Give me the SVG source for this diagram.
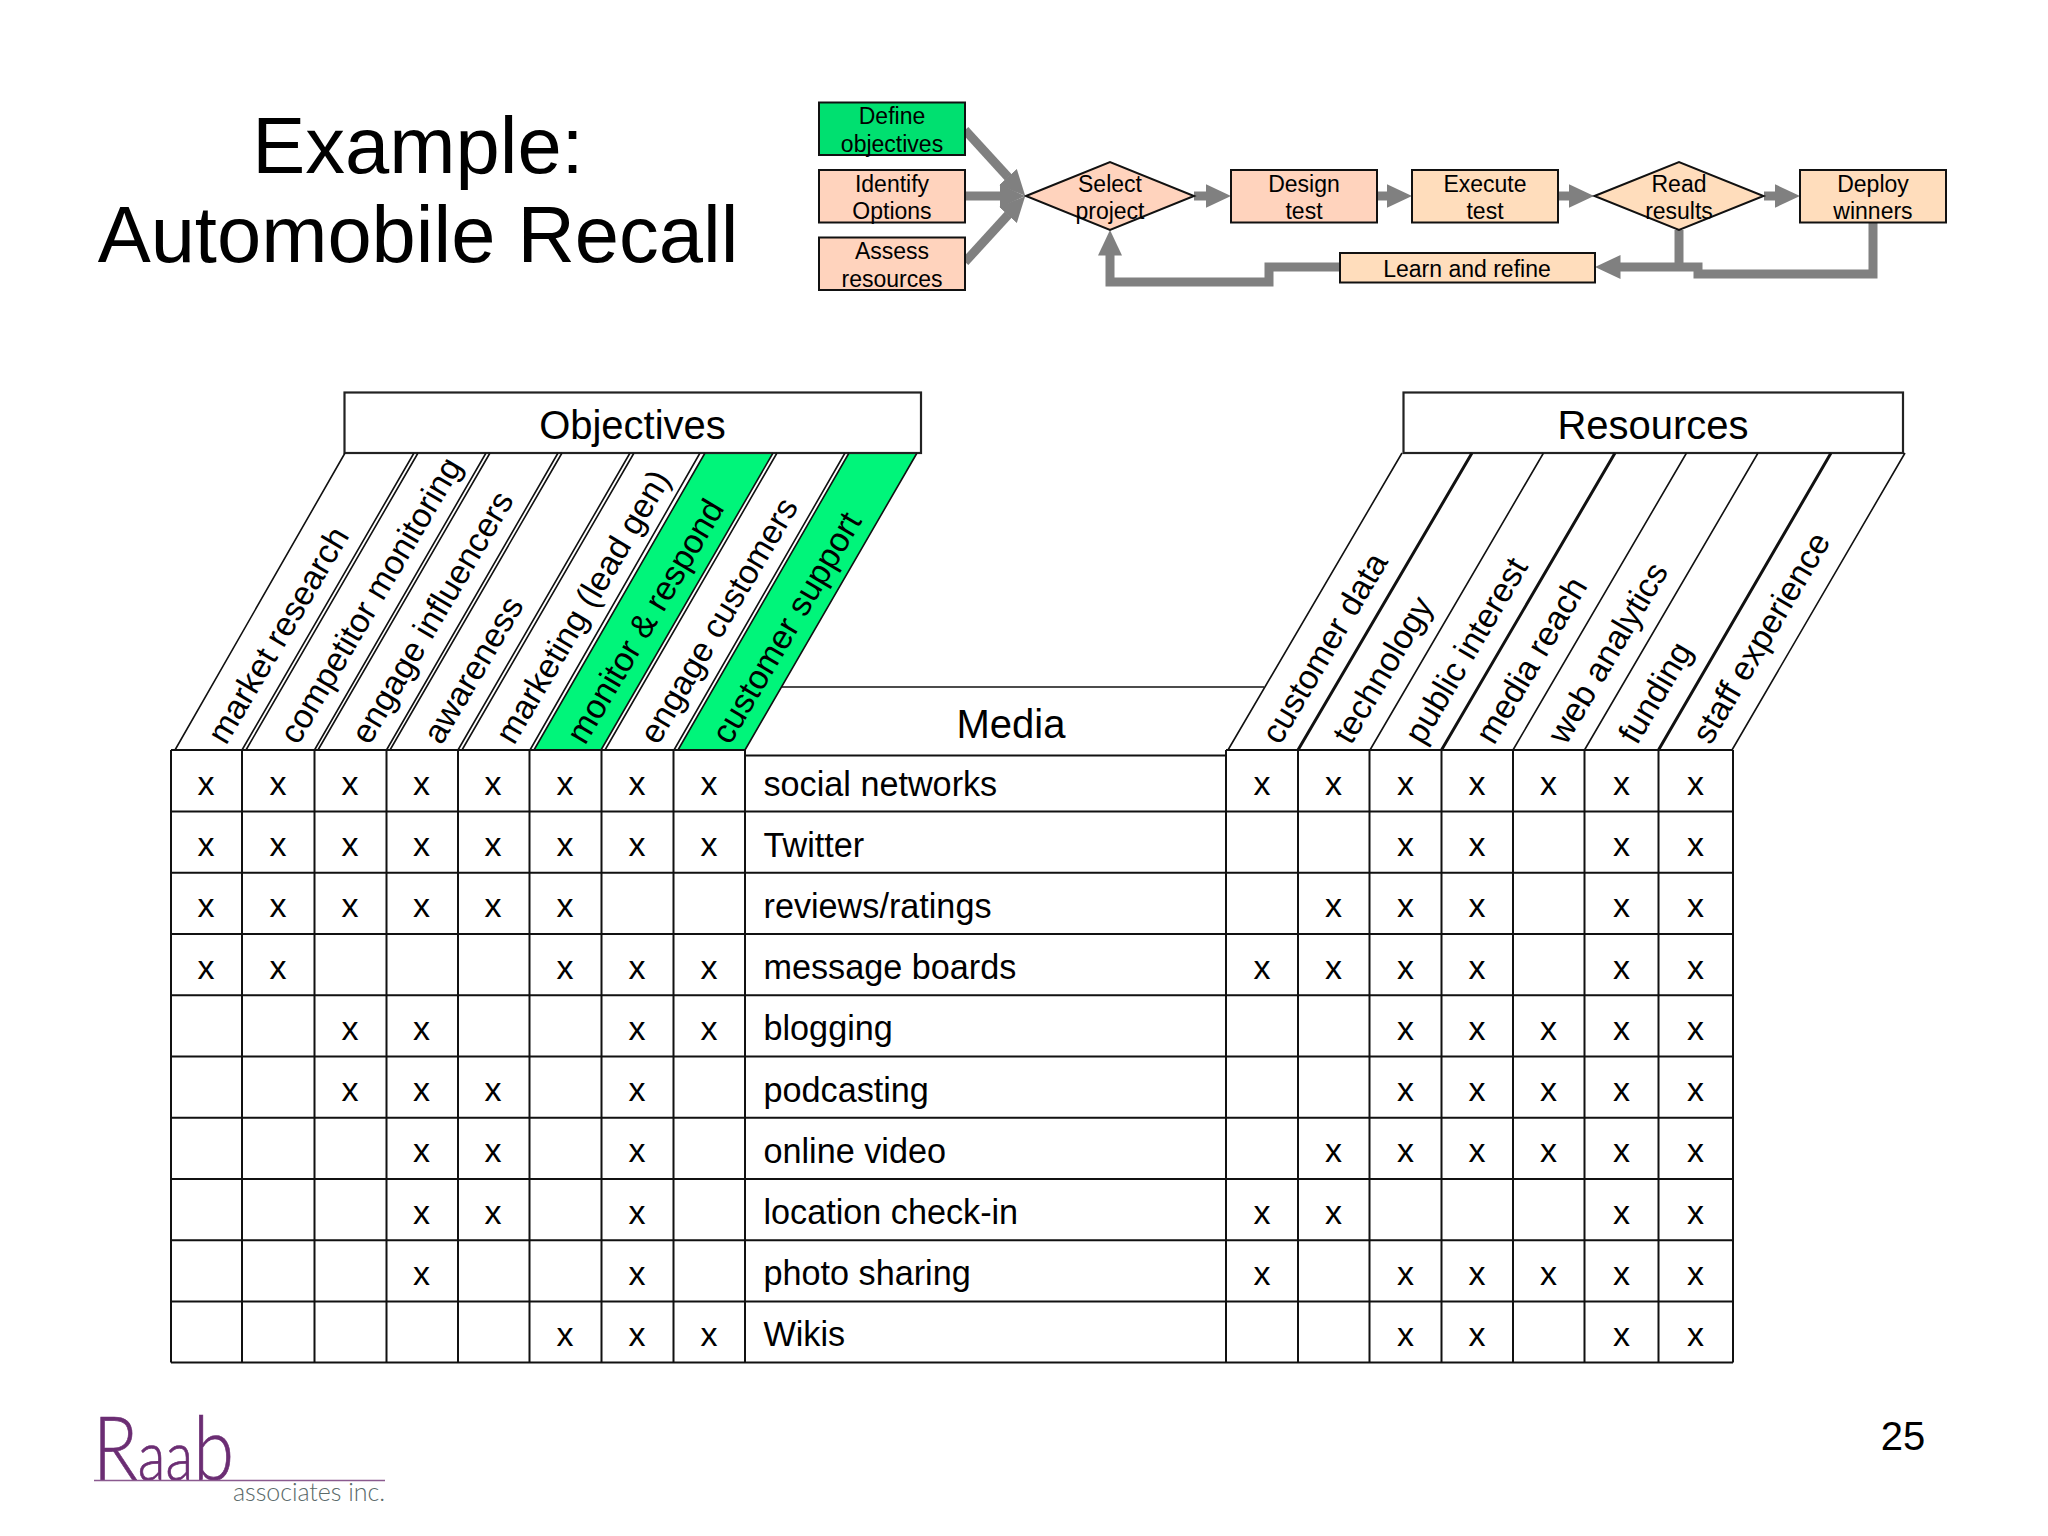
<svg xmlns="http://www.w3.org/2000/svg" width="2048" height="1536" viewBox="0 0 2048 1536">
<style>
text{font-family:"Liberation Sans",Arial,sans-serif;fill:#000}
.title{font-size:79.5px;text-anchor:middle}
.h{font-size:40px;text-anchor:middle}
.m{font-size:34.2px}
.x{font-size:34px;text-anchor:middle}
.s{font-size:33.8px}
.f{font-size:23px;text-anchor:middle}
.box{stroke:#111;stroke-width:2}
.pe{fill:#FFD3BD}
.or{fill:#FFDDBC}
.gr{fill:#00E070}
.hb{fill:#fff;stroke:#222;stroke-width:2.2}
.g{stroke:#111;stroke-width:2;fill:none}
.l{stroke:#111;stroke-width:1.6;fill:none}
.t{stroke:#111;stroke-width:3;fill:none}
.band{fill:#00F57A}
.c{stroke:#808080;stroke-width:9;fill:none;stroke-linejoin:miter}
.a{marker-end:url(#ah)}
.logo{font-family:Lato,"Liberation Sans",sans-serif;font-weight:300;fill:#6B2D73;stroke:#6B2D73;stroke-width:0.7px}
</style>
<defs>
<marker id="ah" markerUnits="userSpaceOnUse" markerWidth="26" markerHeight="25" viewBox="0 0 26 25" refX="0.5" refY="12.5" orient="auto"><path d="M0 0.5L25.5 12.5L0 24.5z" fill="#808080"/></marker>
</defs>
<rect width="2048" height="1536" fill="#fff"/>
<g id="title">
<text class="title" x="418" y="172.500">Example:</text>
<text class="title" x="418" y="261.500">Automobile Recall</text>
</g>
<g id="connectors">
<path class="c a" d="M965 130L1008.3 177.4"/>
<path class="c a" d="M965 196L1000 196"/>
<path class="c a" d="M965 262L1008.3 214.6"/>
<path class="c a" d="M1194 196L1206 196"/>
<path class="c a" d="M1377 196L1387 196"/>
<path class="c a" d="M1558 196L1569 196"/>
<path class="c a" d="M1764 196L1775 196"/>
<path class="c a" d="M1340 267L1269 267L1269 282L1110 282L1110 255"/>
<path class="c" d="M1679 230L1679 267"/>
<path class="c a" d="M1873 223L1873 274L1698 274L1698 267L1620 267"/>
</g>
<g id="define"><rect class="box gr" x="819" y="102.500" width="146" height="52.500"/><text class="f" x="892" y="124">Define</text><text class="f" x="892" y="151.500">objectives</text></g>
<g id="identify"><rect class="box pe" x="819" y="170" width="146" height="52.500"/><text class="f" x="892" y="192">Identify</text><text class="f" x="892" y="219">Options</text></g>
<g id="assess"><rect class="box pe" x="819" y="237.500" width="146" height="52.500"/><text class="f" x="892" y="259">Assess</text><text class="f" x="892" y="287">resources</text></g>
<g id="select"><path class="box pe" d="M1026 196L1110 162L1194 196L1110 230z"/><text class="f" x="1110" y="192">Select</text><text class="f" x="1110" y="219">project</text></g>
<g id="design"><rect class="box pe" x="1231" y="170" width="146" height="52.500"/><text class="f" x="1304" y="192">Design</text><text class="f" x="1304" y="219">test</text></g>
<g id="execute"><rect class="box or" x="1412" y="170" width="146" height="52.500"/><text class="f" x="1485" y="192">Execute</text><text class="f" x="1485" y="219">test</text></g>
<g id="read"><path class="box or" d="M1594.500 196L1679 162L1763.500 196L1679 230z"/><text class="f" x="1679" y="192">Read</text><text class="f" x="1679" y="219">results</text></g>
<g id="deploy"><rect class="box or" x="1800" y="170" width="146" height="52.500"/><text class="f" x="1873" y="192">Deploy</text><text class="f" x="1873" y="219">winners</text></g>
<g id="learn"><rect class="box or" x="1340" y="253" width="255" height="29.500"/><text class="f" x="1467" y="276.500">Learn and refine</text></g>
<g id="objectives">
<path class="band" d="M534 750L705 453L773 453L601 750z"/>
<path class="band" d="M678 750L849 453L917 453L745 750z"/>
<rect class="hb" x="344.500" y="392.500" width="576.500" height="60.500"/>
<text class="h" x="632.500" y="439">Objectives</text>
<path class="l" d="M175 750L345 453M242 750L414 453M246 750L418 453M314.500 750L486 453M318 750L490 453M386.500 750L558 453M390 750L562 453M458 750L630 453M462 750L634 453M530 750L700 453M534 750L705 453M601 750L773 453M605 750L777 453M674 750L845 453M678 750L849 453M745 750L917 453"/>
<g transform="translate(226 746) rotate(-59.500)"><text class="s">market research</text></g>
<g transform="translate(298 746) rotate(-59.500)"><text class="s">competitor monitoring</text></g>
<g transform="translate(369.500 746) rotate(-59.500)"><text class="s">engage influencers</text></g>
<g transform="translate(441.500 746) rotate(-59.500)"><text class="s">awareness</text></g>
<g transform="translate(514 746) rotate(-59.500)"><text class="s">marketing (lead gen)</text></g>
<g transform="translate(585 746) rotate(-59.500)"><text class="s">monitor &amp; respond</text></g>
<g transform="translate(658 746) rotate(-59.500)"><text class="s">engage customers</text></g>
<g transform="translate(730 746) rotate(-59.500)"><text class="s">customer support</text></g>
</g>
<g id="resources">
<rect class="hb" x="1403.500" y="392.500" width="499.500" height="60.500"/>
<text class="h" x="1653" y="439">Resources</text>
<path class="l" d="M1228 750L1402 453M1370 750L1543.500 453M1513 750L1686.500 453M1584.500 750L1758 453M1732 750L1905 453"/>
<path class="t" d="M1298 750L1472 453M1441.500 750L1615 453M1658.500 750L1831 453"/>
<g transform="translate(1280 746) rotate(-59.500)"><text class="s">customer data</text></g>
<g transform="translate(1351 746) rotate(-59.500)"><text class="s">technology</text></g>
<g transform="translate(1423 746) rotate(-59.500)"><text class="s">public interest</text></g>
<g transform="translate(1494 746) rotate(-59.500)"><text class="s">media reach</text></g>
<g transform="translate(1566 746) rotate(-59.500)"><text class="s">web analytics</text></g>
<g transform="translate(1637 746) rotate(-59.500)"><text class="s">funding</text></g>
<g transform="translate(1710.500 746) rotate(-59.500)"><text class="s">staff experience</text></g>
</g>
<g id="media">
<path class="l" d="M781.500 687H1264"/>
<text class="h" x="1011" y="738">Media</text>
</g>
<g id="grid">
<path class="g" d="M171 750L745 750M1226 750L1733 750M745 755.500L1226 755.500M171 811.500H1733M171 872.800H1733M171 934H1733M171 995.300H1733M171 1056.500H1733M171 1117.800H1733M171 1179H1733M171 1240.300H1733M171 1301.500H1733M171 1362.500H1733"/>
<path class="g" d="M171 750V1362.500M242 750V1362.500M314.500 750V1362.500M386.500 750V1362.500M458 750V1362.500M529.500 750V1362.500M601.500 750V1362.500M673.500 750V1362.500M745 750V1362.500M1226 750V1362.500M1298 750V1362.500M1369.500 750V1362.500M1441.500 750V1362.500M1513 750V1362.500M1584.500 750V1362.500M1658.500 750V1362.500M1733 750V1362.500"/>
</g>
<g id="row1"><text class="m" x="763.500" y="795.500">social networks</text>
<text class="x" x="206" y="794.500">x</text><text class="x" x="278" y="794.500">x</text><text class="x" x="350" y="794.500">x</text><text class="x" x="421.500" y="794.500">x</text><text class="x" x="493" y="794.500">x</text><text class="x" x="565" y="794.500">x</text><text class="x" x="637" y="794.500">x</text><text class="x" x="709" y="794.500">x</text>
<text class="x" x="1262" y="794.500">x</text><text class="x" x="1333.500" y="794.500">x</text><text class="x" x="1405.500" y="794.500">x</text><text class="x" x="1477" y="794.500">x</text><text class="x" x="1548.500" y="794.500">x</text><text class="x" x="1621.500" y="794.500">x</text><text class="x" x="1695.500" y="794.500">x</text></g>
<g id="row2"><text class="m" x="763.500" y="856.500">Twitter</text>
<text class="x" x="206" y="856">x</text><text class="x" x="278" y="856">x</text><text class="x" x="350" y="856">x</text><text class="x" x="421.500" y="856">x</text><text class="x" x="493" y="856">x</text><text class="x" x="565" y="856">x</text><text class="x" x="637" y="856">x</text><text class="x" x="709" y="856">x</text>
<text class="x" x="1405.500" y="856">x</text><text class="x" x="1477" y="856">x</text><text class="x" x="1621.500" y="856">x</text><text class="x" x="1695.500" y="856">x</text></g>
<g id="row3"><text class="m" x="763.500" y="917.500">reviews/ratings</text>
<text class="x" x="206" y="917">x</text><text class="x" x="278" y="917">x</text><text class="x" x="350" y="917">x</text><text class="x" x="421.500" y="917">x</text><text class="x" x="493" y="917">x</text><text class="x" x="565" y="917">x</text>
<text class="x" x="1333.500" y="917">x</text><text class="x" x="1405.500" y="917">x</text><text class="x" x="1477" y="917">x</text><text class="x" x="1621.500" y="917">x</text><text class="x" x="1695.500" y="917">x</text></g>
<g id="row4"><text class="m" x="763.500" y="979">message boards</text>
<text class="x" x="206" y="978.500">x</text><text class="x" x="278" y="978.500">x</text><text class="x" x="565" y="978.500">x</text><text class="x" x="637" y="978.500">x</text><text class="x" x="709" y="978.500">x</text>
<text class="x" x="1262" y="978.500">x</text><text class="x" x="1333.500" y="978.500">x</text><text class="x" x="1405.500" y="978.500">x</text><text class="x" x="1477" y="978.500">x</text><text class="x" x="1621.500" y="978.500">x</text><text class="x" x="1695.500" y="978.500">x</text></g>
<g id="row5"><text class="m" x="763.500" y="1040">blogging</text>
<text class="x" x="350" y="1039.500">x</text><text class="x" x="421.500" y="1039.500">x</text><text class="x" x="637" y="1039.500">x</text><text class="x" x="709" y="1039.500">x</text>
<text class="x" x="1405.500" y="1039.500">x</text><text class="x" x="1477" y="1039.500">x</text><text class="x" x="1548.500" y="1039.500">x</text><text class="x" x="1621.500" y="1039.500">x</text><text class="x" x="1695.500" y="1039.500">x</text></g>
<g id="row6"><text class="m" x="763.500" y="1101.500">podcasting</text>
<text class="x" x="350" y="1101">x</text><text class="x" x="421.500" y="1101">x</text><text class="x" x="493" y="1101">x</text><text class="x" x="637" y="1101">x</text>
<text class="x" x="1405.500" y="1101">x</text><text class="x" x="1477" y="1101">x</text><text class="x" x="1548.500" y="1101">x</text><text class="x" x="1621.500" y="1101">x</text><text class="x" x="1695.500" y="1101">x</text></g>
<g id="row7"><text class="m" x="763.500" y="1162.500">online video</text>
<text class="x" x="421.500" y="1162">x</text><text class="x" x="493" y="1162">x</text><text class="x" x="637" y="1162">x</text>
<text class="x" x="1333.500" y="1162">x</text><text class="x" x="1405.500" y="1162">x</text><text class="x" x="1477" y="1162">x</text><text class="x" x="1548.500" y="1162">x</text><text class="x" x="1621.500" y="1162">x</text><text class="x" x="1695.500" y="1162">x</text></g>
<g id="row8"><text class="m" x="763.500" y="1223.500">location check-in</text>
<text class="x" x="421.500" y="1223.500">x</text><text class="x" x="493" y="1223.500">x</text><text class="x" x="637" y="1223.500">x</text>
<text class="x" x="1262" y="1223.500">x</text><text class="x" x="1333.500" y="1223.500">x</text><text class="x" x="1621.500" y="1223.500">x</text><text class="x" x="1695.500" y="1223.500">x</text></g>
<g id="row9"><text class="m" x="763.500" y="1284.500">photo sharing</text>
<text class="x" x="421.500" y="1284.500">x</text><text class="x" x="637" y="1284.500">x</text>
<text class="x" x="1262" y="1284.500">x</text><text class="x" x="1405.500" y="1284.500">x</text><text class="x" x="1477" y="1284.500">x</text><text class="x" x="1548.500" y="1284.500">x</text><text class="x" x="1621.500" y="1284.500">x</text><text class="x" x="1695.500" y="1284.500">x</text></g>
<g id="row10"><text class="m" x="763.500" y="1345.500">Wikis</text>
<text class="x" x="565" y="1345.500">x</text><text class="x" x="637" y="1345.500">x</text><text class="x" x="709" y="1345.500">x</text>
<text class="x" x="1405.500" y="1345.500">x</text><text class="x" x="1477" y="1345.500">x</text><text class="x" x="1621.500" y="1345.500">x</text><text class="x" x="1695.500" y="1345.500">x</text></g>
<g id="logo">
<text class="logo" transform="translate(93 1480) scale(0.84 1)" style="font-size:88px">R<tspan font-size="68">aa</tspan>b</text>
<path d="M94 1480.500H385" stroke="#8A5A8F" stroke-width="1.500"/>
<text x="233" y="1501" style="font-family:Lato,'Liberation Sans',sans-serif;font-weight:300;font-size:25px;fill:#5A6A6A" textLength="152" lengthAdjust="spacing">associates inc.</text>
</g>
<text id="page" class="h" x="1903" y="1450">25</text>
</svg>
